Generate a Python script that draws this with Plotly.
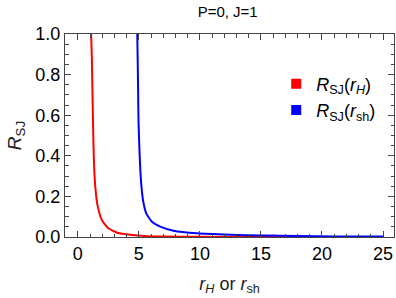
import plotly.graph_objects as go

# Data
r_H = [1.09, 1.15, 1.20, 1.25, 1.31, 1.42, 1.61, 1.97, 2.5, 3.3, 4.3, 5.5, 7.0, 10.0, 15.0, 20.0, 25.0]
R_H = [1.0, 0.88, 0.71, 0.55, 0.39, 0.256, 0.157, 0.084, 0.043, 0.02, 0.011, 0.005, 0.0025, 0.001, 0.0003, 0.0001, 0.0001]

r_sh = [4.87, 4.91, 4.94, 4.97, 5.06, 5.17, 5.34, 5.61, 6.07, 6.75, 7.84, 9.75, 12.5, 15.2, 18.0, 21.0, 25.0]
R_sh = [1.0, 0.85, 0.72, 0.575, 0.411, 0.28, 0.182, 0.116, 0.075, 0.051, 0.031, 0.018, 0.011, 0.007, 0.005, 0.003, 0.002]

x_ticks = [0, 5, 10, 15, 20, 25]
y_ticks = [0.0, 0.2, 0.4, 0.6, 0.8, 1.0]
y_ticklabels = ["0.0", "0.2", "0.4", "0.6", "0.8", "1.0"]

FONT = "Liberation Sans, Arial, sans-serif"
RED = "#ff0000"
BLUE = "#0000ff"
FRAME = "#444444"

fig = go.Figure()
fig.add_trace(go.Scatter(x=r_H, y=R_H, mode="lines", line=dict(color=RED, width=2, shape="spline", smoothing=0.5),
                         showlegend=False, hoverinfo="skip"))
fig.add_trace(go.Scatter(x=r_sh, y=R_sh, mode="lines", line=dict(color=BLUE, width=2, shape="spline", smoothing=0.5),
                         showlegend=False, hoverinfo="skip"))
# legend entries (square swatches)
fig.add_trace(go.Scatter(x=[None], y=[None], mode="markers",
                         marker=dict(symbol="square", size=10, color=RED, line=dict(width=0)),
                         name="<i>R</i><sub>SJ</sub>(<i>r<sub>H</sub></i>)"))
fig.add_trace(go.Scatter(x=[None], y=[None], mode="markers",
                         marker=dict(symbol="square", size=10, color=BLUE, line=dict(width=0)),
                         name="<i>R</i><sub>SJ</sub>(<i>r</i><sub>sh</sub>)"))

axis_common = dict(
    showline=True, linecolor=FRAME, linewidth=1, mirror="allticks",
    ticks="inside", ticklen=6, tickwidth=1, tickcolor=FRAME,
    showgrid=False, zeroline=False,
    tickfont=dict(family=FONT, size=18, color="black"),
)

fig.update_xaxes(range=[-1.05, 25.9], tickvals=x_ticks,
                 minor=dict(dtick=1, ticks="inside", ticklen=3.5, tickcolor=FRAME, showgrid=False),
                 title=dict(text="<i>r<sub>H</sub></i> or <i>r</i><sub>sh</sub>",
                            font=dict(family=FONT, size=18, color="#222222"), standoff=14),
                 **axis_common)
fig.update_yaxes(range=[0, 1], tickvals=y_ticks, ticktext=y_ticklabels,
                 minor=dict(dtick=0.05, ticks="inside", ticklen=3.5, tickcolor=FRAME, showgrid=False),
                 title=dict(text="<i>R</i><sub>SJ</sub>",
                            font=dict(family=FONT, size=19, color="#222222"), standoff=8),
                 **axis_common)

fig.update_layout(
    width=396, height=298,
    margin=dict(l=65, r=2, t=34, b=61, autoexpand=False),
    paper_bgcolor="white", plot_bgcolor="white",
    title=dict(text="P=0, J=1", x=0.575, xanchor="center", y=0.96, yanchor="middle",
               font=dict(family=FONT, size=15, color="black")),
    legend=dict(x=0.642, y=0.845, xanchor="left", yanchor="top", bgcolor="rgba(0,0,0,0)",
                font=dict(family=FONT, size=18, color="black"), itemwidth=30,
                tracegroupgap=0),
    showlegend=True,
)

fig.write_html("out.html", config={"displayModeBar": False},
               post_script="document.body.style.margin='0';document.body.style.padding='0';")
